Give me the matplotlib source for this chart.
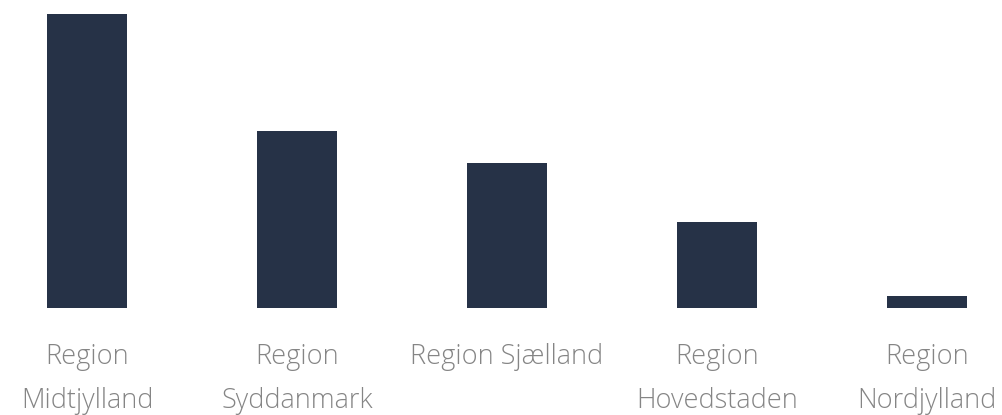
import matplotlib
matplotlib.use("Agg")
import matplotlib.pyplot as plt

regions = ["Region\nMidtjylland", "Region\nSyddanmark", "Region Sjælland",
           "Region\nHovedstaden", "Region\nNordjylland"]
values = [294, 177, 145, 86, 12]

BAR = "#263247"
INK = "#858585"

fig = plt.figure(figsize=(10.03, 4.15), dpi=100)
ax = fig.add_axes([0, 107 / 415, 1, (308 - 14) / 415])

xs = range(len(values))
ax.bar(xs, values, width=80 / 210, color=BAR)
ax.set_xlim(-87 / 210, (1003 - 87) / 210)
ax.set_ylim(0, max(values))

ax.set_xticks(list(xs), regions)
ax.tick_params(axis="x", length=0, pad=25, labelsize=19.5, labelcolor=INK)
for lbl in ax.get_xticklabels():
    lbl.set_family(["Open Sans", "DejaVu Sans"])
    lbl.set_fontweight("light")
    lbl.set_linespacing(1.78)
ax.set_yticks([])
for spine in ax.spines.values():
    spine.set_visible(False)

fig.savefig("out.png", dpi=100)
